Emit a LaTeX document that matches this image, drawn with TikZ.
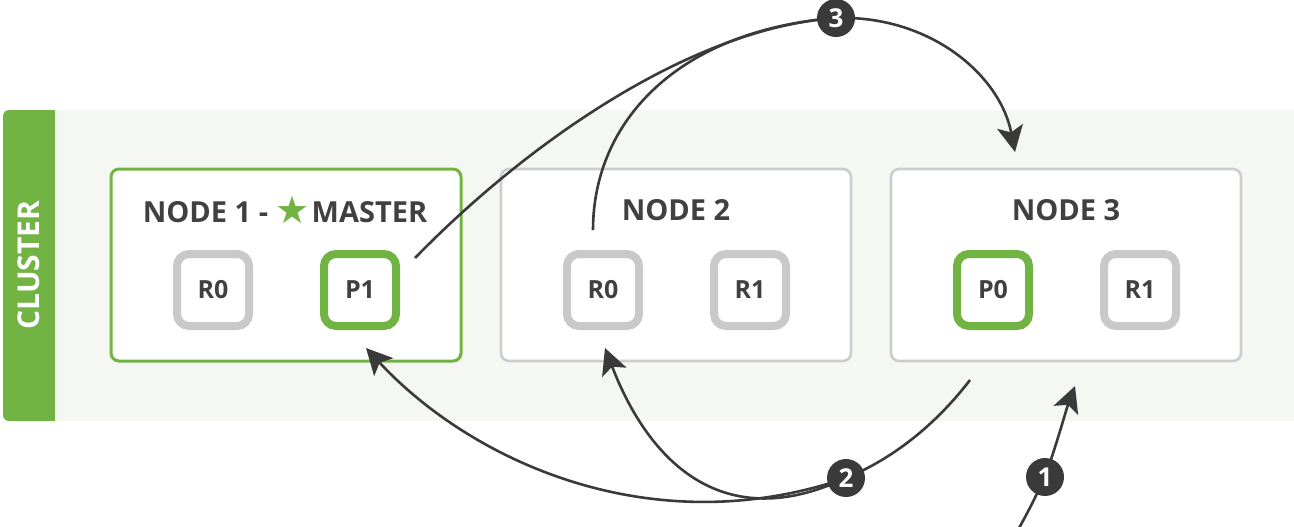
\documentclass[tikz,border=0pt]{standalone}
\usepackage{fontspec}
\setmainfont{Open Sans}
\newfontfamily\symfont{DejaVu Sans}
\usetikzlibrary{arrows.meta}
\definecolor{esgreen}{HTML}{72B443}
\definecolor{shgray}{HTML}{C9C9C9}
\definecolor{boxgray}{HTML}{CDCDCD}
\definecolor{txt}{HTML}{404040}
\definecolor{bgc}{HTML}{F5F7F3}
\definecolor{arr}{HTML}{3A3A3A}
\begin{document}
\begin{tikzpicture}[x=0.5pt,y=-0.5pt,
  nodebox/.style={draw=boxgray, fill=white, line width=1.3pt, rounded corners=4pt, minimum width=175pt, minimum height=96pt},
  title/.style={font=\bfseries\fontsize{14.5}{16}\selectfont, text=txt, inner sep=0pt},
  shard/.style={draw=shgray, fill=white, line width=4pt, rounded corners=6pt, minimum size=36pt, inner sep=0pt, font=\bfseries\fontsize{12.5}{14}\selectfont, text=txt},
  num/.style={circle, fill=arr, minimum size=19pt, inner sep=0pt, text=white, font=\bfseries\fontsize{13}{14}\selectfont},
  conn/.style={draw=arr, line width=1.3pt},
  tip/.style={-{Stealth[length=13pt,width=13pt,inset=3pt]}}
]
\useasboundingbox (0,0) rectangle (1294,526);
% cluster background
\fill[esgreen, rounded corners=3pt] (3,110) rectangle (62,421);
\fill[bgc] (55,110) rectangle (1294,421);
\node[rotate=90, text=white, font=\bfseries\fontsize{15}{17}\selectfont] (cl) at (29,265) {CLUSTER};
% nodes
\node[nodebox, draw=esgreen, line width=1.5pt] (n1) at (286,265) {};
\node[nodebox] (n2) at (676,265) {};
\node[nodebox] (n3) at (1066,265) {};
\node[title] (t1) at (285,210) {NODE 1 - {\color{esgreen}\symfont\fontsize{19}{20}\selectfont\raisebox{-0.5pt}{★}}\kern1pt MASTER};
\node[title] (t2) at (676,210) {NODE 2};
\node[title] (t3) at (1066,210) {NODE 3};
% shards
\node[shard] (n1r0) at (213,290) {R0};
\node[shard, draw=esgreen] (n1p1) at (360,290) {P1};
\node[shard] (n2r0) at (603,290) {R0};
\node[shard] (n2r1) at (750,290) {R1};
\node[shard, draw=esgreen] (n3p0) at (993,290) {P0};
\node[shard] (n3r1) at (1140,290) {R1};
% coordinates
\coordinate (a1s) at (1018,530);
\coordinate (a1e) at (1075,386);
\coordinate (a2s) at (970,380);
\coordinate (p1tip) at (366,348);
\coordinate (r0tip) at (605,348);
\coordinate (p1out) at (415,258);
\coordinate (r0out) at (593,230);
\coordinate (n3tip) at (1015,152);
% step circles (positions)
\path (1045,477) coordinate (c1p) (846,478) coordinate (c2p) (836,18) coordinate (c3p);
% connectors
\draw[conn] (a1s) .. controls (1030,508) .. (c1p);
\draw[conn, tip] (c1p) .. controls (1058,440) and (1066,410) .. (a1e);
\draw[conn] (a2s) .. controls (930,432) and (885,462) .. (c2p);
\draw[conn, tip] (c2p) .. controls (650,545) and (470,460) .. (p1tip);
\draw[conn, tip] (c2p) .. controls (725,535) and (650,465) .. (r0tip);
\draw[conn] (p1out) .. controls (525,145) and (690,28) .. (c3p);
\draw[conn] (r0out) .. controls (593,120) and (680,30) .. (c3p);
\draw[conn, tip] (c3p) .. controls (930,15) and (1000,75) .. (n3tip);
% step circles
\node[num] (c1) at (c1p) {1};
\node[num] (c2) at (c2p) {2};
\node[num] (c3) at (c3p) {3};
\end{tikzpicture}
\end{document}
